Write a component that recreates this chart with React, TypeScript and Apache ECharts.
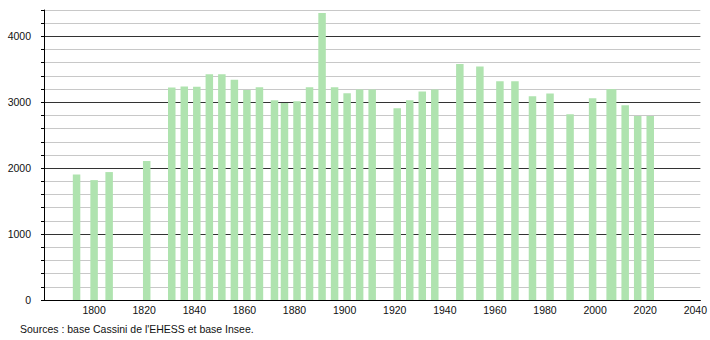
import React, { useEffect, useRef } from "react";
import * as echarts from "echarts";

const years = [
  1793, 1800, 1806, 1821, 1831, 1836, 1841, 1846, 1851, 1856, 1861, 1866, 1872,
  1876, 1881, 1886, 1891, 1896, 1901, 1906, 1911, 1921, 1926, 1931, 1936, 1946,
  1954, 1962, 1968, 1975, 1982, 1990, 1999, 2006, 2007, 2012, 2017, 2022,
];
const population = [
  1906, 1819, 1941, 2108, 3224, 3240, 3234, 3427, 3427, 3340, 3188, 3229, 3031,
  2990, 3016, 3229, 4354, 3229, 3137, 3193, 3193, 2909, 3031, 3163, 3193, 3579,
  3544, 3320, 3320, 3092, 3133, 2818, 3062, 3198, 3198, 2955, 2793, 2793,
];
const xTickYears = [1800, 1820, 1840, 1860, 1880, 1900, 1920, 1940, 1960, 1980, 2000, 2020, 2040];
const yTickValues = [0, 1000, 2000, 3000, 4000];
const sourceText = "Sources : base Cassini de l'EHESS et base Insee.";

const FONT = "'Liberation Sans', Arial, Helvetica, sans-serif";

export default function App() {
  const ref = useRef<HTMLDivElement>(null);
  useEffect(() => {
    if (!ref.current) return;
    const chart = echarts.init(ref.current, undefined, { renderer: "svg" });
    chart.setOption({
      animation: false,
      backgroundColor: "#ffffff",
      textStyle: { fontFamily: FONT },
      grid: { left: 44, right: 9, top: 10, bottom: 40, containLabel: false },
      xAxis: {
        type: "value",
        min: 1780,
        max: 2042,
        interval: 20,
        axisLine: { show: true, lineStyle: { color: "#000", width: 1 } },
        axisTick: { show: false },
        splitLine: { show: false },
        axisLabel: {
          color: "#111",
          fontSize: 10.5,
          fontFamily: FONT,
          margin: 4,
          formatter: (v: number) => (xTickYears.includes(v) ? String(v) : ""),
        },
      },
      yAxis: [
        {
          type: "value",
          min: 0,
          max: 4400,
          interval: 200,
          position: "left",
          axisLine: { show: true, lineStyle: { color: "#000", width: 1 } },
          axisTick: { show: true, length: 3, lineStyle: { color: "#000" } },
          splitLine: { show: true, lineStyle: { color: "#c8c8c8", width: 1 } },
          axisLabel: {
            color: "#111",
            fontSize: 10.5,
            fontFamily: FONT,
            margin: 13,
            formatter: (v: number) => (yTickValues.includes(v) ? String(v) : ""),
          },
        },
        {
          type: "value",
          min: 0,
          max: 4400,
          interval: 1000,
          position: "left",
          axisLine: { show: false },
          axisTick: { show: false },
          splitLine: {
            show: true,
            showMaxLine: false,
            lineStyle: { color: "#333", width: 1 },
          },
          axisLabel: { show: false },
        },
      ],
      series: [
        {
          type: "bar",
          yAxisIndex: 0,
          barWidth: 7.5,
          itemStyle: { color: "#afe3af" },
          data: years.map((y, i) => [y, population[i]]),
          z: 3,
        },
      ],
      graphic: [
        {
          type: "text",
          left: 20,
          top: 323,
          style: { text: sourceText, fontSize: 10.5, fontFamily: FONT, fill: "#111" },
        },
      ],
    });
    return () => chart.dispose();
  }, []);
  return <div ref={ref} style={{ position: "fixed", left: 0, top: 0, width: 710, height: 340 }} />;
}
